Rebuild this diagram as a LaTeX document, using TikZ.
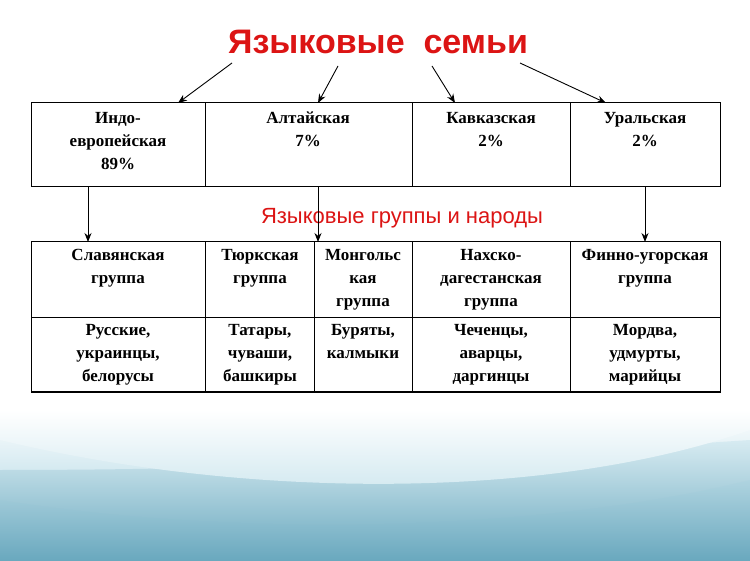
\documentclass[tikz,border=0pt]{standalone}
\usepackage{fontspec}
\setmainfont{Liberation Serif}
\newfontfamily\sansf{Liberation Sans}
\usetikzlibrary{arrows.meta}
\definecolor{titred}{RGB}{220,20,20}
\definecolor{seaA}{RGB}{105,168,190}
\definecolor{seaB}{RGB}{205,230,238}
\begin{document}
\begin{tikzpicture}[x=1pt,y=-1pt,
  cell/.style={anchor=north,align=center,inner sep=0pt,font=\bfseries\fontsize{17}{23}\selectfont},
  arr/.style={-{Stealth[length=9pt,width=7pt]},line width=0.9pt},
  tab/.style={line width=1pt}]
\useasboundingbox (0,0) rectangle (750,561);
\fill[white] (0,0) rectangle (750,561);
\shade[top color=white,bottom color=seaB] (0,410) rectangle (750,480);
\fill[seaB] (0,480) rectangle (750,561);
\shade[top color=seaB!80,bottom color=seaA] (0,470) .. controls (250,470) and (450,460) .. (750,440) -- (750,561) -- (0,561) -- cycle;
\shade[top color=seaB!70!seaA,bottom color=seaA] (0,500) .. controls (250,540) and (550,530) .. (750,480) -- (750,561) -- (0,561) -- cycle;
\shade[top color=white,bottom color=seaB] (0,440) .. controls (250,500) and (550,500) .. (750,430) -- (750,410) -- (0,410) -- cycle;
% title
\node (title) at (378,42) {\sansf\bfseries\color{titred}\fontsize{34}{38}\selectfont Языковые\ \ семьи};
\coordinate (t1) at (232,63); \coordinate (t2) at (338,66);
\coordinate (t3) at (432,66); \coordinate (t4) at (520,63);
% top table
\draw[tab] (31,103) rectangle (720,187);
\foreach \x in {205,412,570} \draw[tab] (\x,103) -- (\x,187);
\coordinate (f1) at (178,103); \coordinate (f2) at (318,103);
\coordinate (f3) at (455,103); \coordinate (f4) at (606,103);
\draw[arr] (t1) -- (f1); \draw[arr] (t2) -- (f2);
\draw[arr] (t3) -- (f3); \draw[arr] (t4) -- (f4);
\node[cell] (c1) at (118,112) {Индо-\\европейская\\89\%};
\node[cell] (c2) at (308,112) {Алтайская\\7\%};
\node[cell] (c3) at (491,112) {Кавказская\\2\%};
\node[cell] (c4) at (645,112) {Уральская\\2\%};
% subtitle
\node (sub) at (402,218) {\sansf\color{titred}\fontsize{22}{26}\selectfont Языковые группы и народы};
% bottom table
\draw[tab] (31,242) rectangle (720,392);
\draw[tab] (31,318) -- (720,318);
\foreach \x in {205,314,412,570} \draw[tab] (\x,242) -- (\x,392);
\coordinate (d1a) at (88,187); \coordinate (d1b) at (88,242);
\coordinate (d2a) at (318,187); \coordinate (d2b) at (318,242);
\coordinate (d3a) at (645,187); \coordinate (d3b) at (645,242);
\draw[arr] (d1a) -- (d1b); \draw[arr] (d2a) -- (d2b); \draw[arr] (d3a) -- (d3b);
\begin{scope}[every node/.append style={font=\bfseries\fontsize{16}{23}\selectfont}]
\node[cell] (g1) at (118,249) {Славянская\\группа};
\node[cell] (g2) at (260,249) {Тюркская\\группа};
\node[cell] (g3) at (363,249) {Монгольс\\кая\\группа};
\node[cell] (g4) at (491,249) {Нахско-\\дагестанская\\группа};
\node[cell] (g5) at (645,249) {Финно-угорская\\группа};
\node[cell] (p1) at (118,324) {Русские,\\украинцы,\\белорусы};
\node[cell] (p2) at (260,324) {Татары,\\чуваши,\\башкиры};
\node[cell] (p3) at (363,324) {Буряты,\\калмыки};
\node[cell] (p4) at (491,324) {Чеченцы,\\аварцы,\\даргинцы};
\node[cell] (p5) at (645,324) {Мордва,\\удмурты,\\марийцы};
\end{scope}
\end{tikzpicture}
\end{document}
